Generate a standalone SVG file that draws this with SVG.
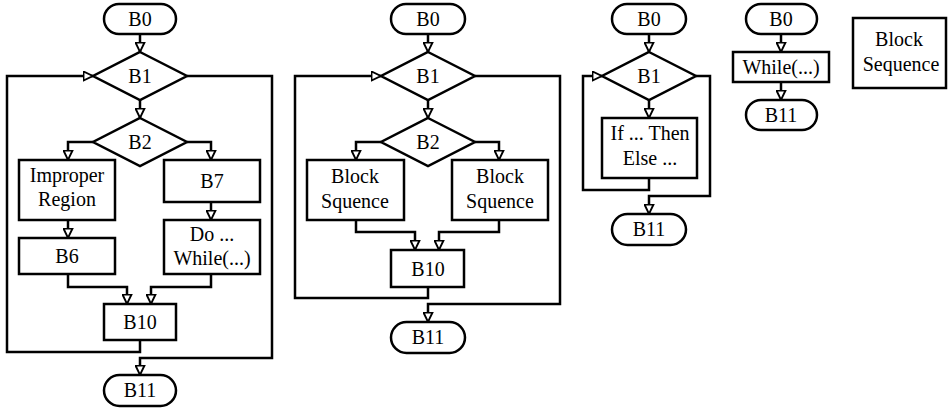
<svg xmlns="http://www.w3.org/2000/svg" width="948" height="412" viewBox="0 0 948 412">
<style>
.n{fill:#fff;stroke:#000;stroke-width:2.5}
.c{fill:none;stroke:#000;stroke-width:2.5}
.a{marker-end:url(#ah)}
</style>
<defs>
<marker id="ah" viewBox="0 0 11 11" refX="10.5" refY="5.5" markerWidth="11" markerHeight="11" markerUnits="userSpaceOnUse" orient="auto">
<path d="M1,1 L10.3,5.5 L1,10 Z" fill="#fff" stroke="#000" stroke-width="1.9"/>
</marker>
</defs>
<g id="connectors">
<path class="c a" d="M140,34 V52"/>
<path class="c a" d="M140,100 V118"/>
<path class="c a" d="M93,142 H68 V160"/>
<path class="c a" d="M187,142 H211 V160"/>
<path class="c a" d="M68,220 V238"/>
<path class="c a" d="M211,202 V220"/>
<path class="c a" d="M68,274 V287 H127 V304"/>
<path class="c a" d="M211,274 V287 H151 V304"/>
<path class="c a" d="M140,340 V352 H7 V76 H93"/>
<path class="c a" d="M187,76 H272 V358 H140 V375"/>
<path class="c a" d="M428,34 V52"/>
<path class="c a" d="M428,100 V118"/>
<path class="c a" d="M381,142 H356 V160"/>
<path class="c a" d="M475,142 H499 V160"/>
<path class="c a" d="M356,220 V232 H415 V250"/>
<path class="c a" d="M499,220 V232 H439 V250"/>
<path class="c a" d="M428,287 V298 H295 V76 H381"/>
<path class="c a" d="M475,76 H560 V304 H428 V322"/>
<path class="c a" d="M649,34 V52"/>
<path class="c a" d="M649,100 V118"/>
<path class="c a" d="M649,178 V190 H583 V76 H602"/>
<path class="c a" d="M696,76 H710 V196 H649 V214"/>
<path class="c a" d="M781,34 V52"/>
<path class="c a" d="M781,82 V100"/>
</g>
<g id="d1-B0"><rect class="n" x="104" y="4" width="72" height="30" rx="15"/><text font-family="Liberation Serif" font-size="20" text-anchor="middle" x="140" y="26">B0</text></g>
<g id="d1-B1"><path class="n" d="M140,52 L187,76 L140,100 L93,76 Z"/><text font-family="Liberation Serif" font-size="20" text-anchor="middle" x="140" y="83">B1</text></g>
<g id="d1-B2"><path class="n" d="M140,118 L187,142 L140,166 L93,142 Z"/><text font-family="Liberation Serif" font-size="20" text-anchor="middle" x="140" y="149">B2</text></g>
<g id="d1-improper"><rect class="n" x="19" y="160" width="96" height="60"/><text font-family="Liberation Serif" font-size="20" text-anchor="middle" x="67" y="182">Improper</text><text font-family="Liberation Serif" font-size="20" text-anchor="middle" x="67" y="206">Region</text></g>
<g id="d1-B7"><rect class="n" x="164" y="160" width="96" height="42"/><text font-family="Liberation Serif" font-size="20" text-anchor="middle" x="212" y="188">B7</text></g>
<g id="d1-B6"><rect class="n" x="19" y="238" width="96" height="36"/><text font-family="Liberation Serif" font-size="20" text-anchor="middle" x="67" y="263">B6</text></g>
<g id="d1-dowhile"><rect class="n" x="164" y="220" width="96" height="54"/><text font-family="Liberation Serif" font-size="20" text-anchor="middle" x="212" y="241">Do ...</text><text font-family="Liberation Serif" font-size="20" text-anchor="middle" x="212" y="265">While(...)</text></g>
<g id="d1-B10"><rect class="n" x="104" y="304" width="72" height="36"/><text font-family="Liberation Serif" font-size="20" text-anchor="middle" x="140" y="329">B10</text></g>
<g id="d1-B11"><rect class="n" x="104" y="375" width="72" height="31" rx="15.5"/><text font-family="Liberation Serif" font-size="20" text-anchor="middle" x="140" y="397">B11</text></g>

<g id="d2-B0"><rect class="n" x="391" y="4" width="74" height="30" rx="15"/><text font-family="Liberation Serif" font-size="20" text-anchor="middle" x="428" y="26">B0</text></g>
<g id="d2-B1"><path class="n" d="M428,52 L475,76 L428,100 L381,76 Z"/><text font-family="Liberation Serif" font-size="20" text-anchor="middle" x="428" y="83">B1</text></g>
<g id="d2-B2"><path class="n" d="M428,118 L475,142 L428,166 L381,142 Z"/><text font-family="Liberation Serif" font-size="20" text-anchor="middle" x="428" y="149">B2</text></g>
<g id="d2-seqL"><rect class="n" x="307" y="160" width="97" height="60"/><text font-family="Liberation Serif" font-size="20" text-anchor="middle" x="355" y="183">Block</text><text font-family="Liberation Serif" font-size="20" text-anchor="middle" x="355" y="208">Squence</text></g>
<g id="d2-seqR"><rect class="n" x="452" y="160" width="96" height="60"/><text font-family="Liberation Serif" font-size="20" text-anchor="middle" x="500" y="183">Block</text><text font-family="Liberation Serif" font-size="20" text-anchor="middle" x="500" y="208">Squence</text></g>
<g id="d2-B10"><rect class="n" x="391" y="250" width="73" height="37"/><text font-family="Liberation Serif" font-size="20" text-anchor="middle" x="428" y="276">B10</text></g>
<g id="d2-B11"><rect class="n" x="391" y="322" width="74" height="31" rx="15.5"/><text font-family="Liberation Serif" font-size="20" text-anchor="middle" x="428" y="344">B11</text></g>

<g id="d3-B0"><rect class="n" x="612" y="4" width="74" height="30" rx="15"/><text font-family="Liberation Serif" font-size="20" text-anchor="middle" x="649" y="26">B0</text></g>
<g id="d3-B1"><path class="n" d="M649,52 L696,76 L649,100 L602,76 Z"/><text font-family="Liberation Serif" font-size="20" text-anchor="middle" x="649" y="83">B1</text></g>
<g id="d3-ifthen"><rect class="n" x="602" y="118" width="95" height="60"/><text font-family="Liberation Serif" font-size="20" text-anchor="middle" x="650" y="140">If ... Then</text><text font-family="Liberation Serif" font-size="20" text-anchor="middle" x="650" y="165">Else ...</text></g>
<g id="d3-B11"><rect class="n" x="612" y="214" width="74" height="31" rx="15.5"/><text font-family="Liberation Serif" font-size="20" text-anchor="middle" x="649" y="236">B11</text></g>

<g id="d4-B0"><rect class="n" x="746" y="4" width="71" height="30" rx="15"/><text font-family="Liberation Serif" font-size="20" text-anchor="middle" x="781" y="26">B0</text></g>
<g id="d4-while"><rect class="n" x="733" y="52" width="96" height="30"/><text font-family="Liberation Serif" font-size="20" text-anchor="middle" x="781" y="74">While(...)</text></g>
<g id="d4-B11"><rect class="n" x="746" y="100" width="71" height="30" rx="15"/><text font-family="Liberation Serif" font-size="20" text-anchor="middle" x="781" y="122">B11</text></g>

<g id="d5-seq"><rect class="n" x="853" y="18" width="93" height="70"/><text font-family="Liberation Serif" font-size="20" text-anchor="middle" x="899" y="46">Block</text><text font-family="Liberation Serif" font-size="20" text-anchor="middle" x="901" y="71">Sequence</text></g>
</svg>
